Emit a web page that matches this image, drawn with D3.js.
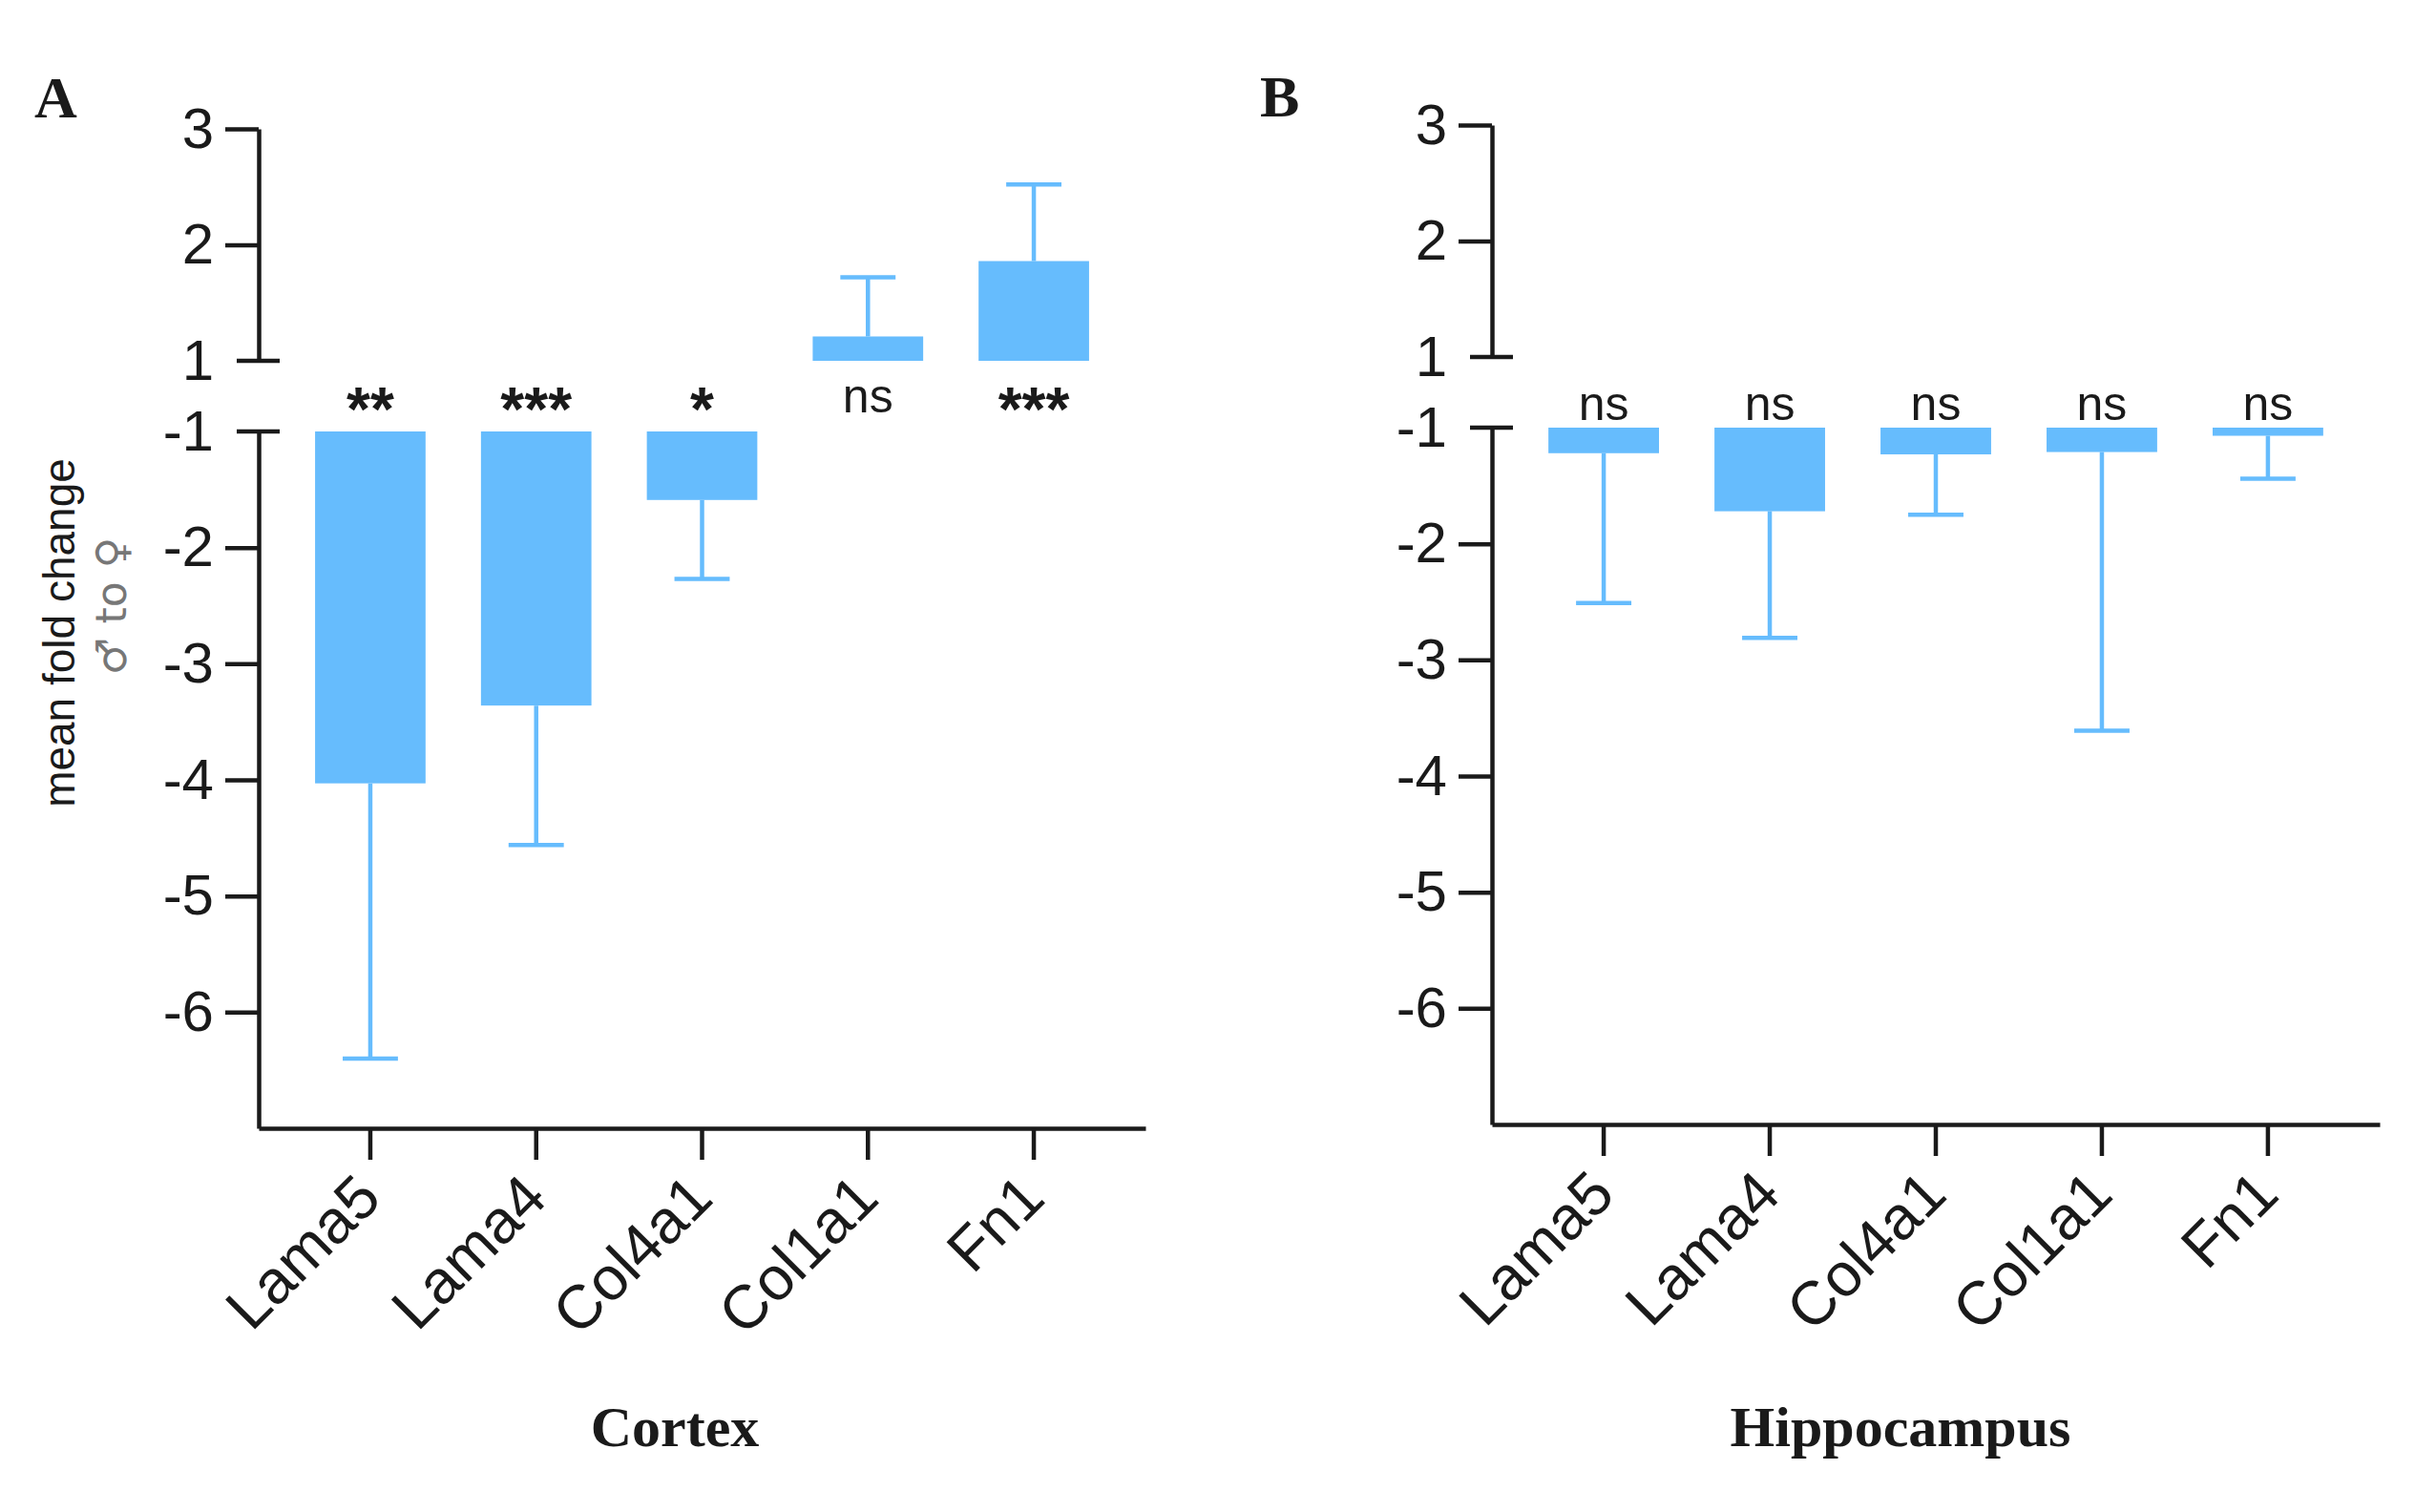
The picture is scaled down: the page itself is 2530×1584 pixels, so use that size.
<!DOCTYPE html>
<html>
<head>
<meta charset="utf-8">
<script src="https://cdn.jsdelivr.net/npm/d3@7"></script>
<style>
  body { margin: 0; background: #fff; }
  svg { display: block; }
  .tick text { font-family: "Liberation Sans", Arial, sans-serif; fill: #1a1a1a; }
</style>
</head>
<body>
<svg id="chart" width="2530" height="1584"></svg>
<script>
const categories = ['Lama5', 'Lama4', 'Col4a1', 'Col1a1', 'Fn1'];

const cortexMean = [-4.03, -3.36, -1.59, 1.21, 1.86];
const cortexErr  = [-6.40, -4.56, -2.27, 1.72, 2.52];
const cortexSig  = ['**', '***', '*', 'ns', '***'];

const hippoMean = [-1.22, -1.72, -1.23, -1.21, -1.07];
const hippoErr  = [-2.51, -2.81, -1.75, -3.61, -1.44];
const hippoSig  = ['ns', 'ns', 'ns', 'ns', 'ns'];

const upperTicks = [1, 2, 3];
const lowerTicks = [-1, -2, -3, -4, -5, -6];
const upperDomain = [1, 3];
const lowerDomain = [-7, -1];

const BAR = '#66bcfd';
const INK = '#1a1a1a';

const svg = d3.select('#chart');
svg.append('rect').attr('width', 2530).attr('height', 1584).attr('fill', '#fff');

const panels = [
  { letter: 'A', title: 'Cortex', mean: cortexMean, err: cortexErr, sig: cortexSig,
    x0: 271, x1: 1200, upTop: 135, upBot: 378, lowTop: 452, lowBot: 1182,
    letterX: 36, letterY: 123, titleX: 707, sigY: 417 },
  { letter: 'B', title: 'Hippocampus', mean: hippoMean, err: hippoErr, sig: hippoSig,
    x0: 1563, x1: 2493, upTop: 131, upBot: 374, lowTop: 448, lowBot: 1178,
    letterX: 1320, letterY: 122, titleX: 1991, sigY: 425 }
];

panels.forEach(p => drawPanel(p));

function drawPanel(p) {
  const g = svg.append('g');

  const x = d3.scaleBand().domain(categories).range([p.x0, p.x1])
    .paddingInner(0.334).paddingOuter(0.34);
  const yUp = d3.scaleLinear().domain(upperDomain).range([p.upBot, p.upTop]);
  const yLow = d3.scaleLinear().domain(lowerDomain).range([p.lowBot, p.lowTop]);

  const rows = categories.map((c, i) => ({ c, m: p.mean[i], e: p.err[i], s: p.sig[i] }));

  // bars
  const bw = x.bandwidth();
  rows.forEach(d => {
    const cx = x(d.c) + bw / 2;
    let yTop, yBot, yErr, yEnd;
    if (d.m > 0) {
      yTop = yUp(d.m); yBot = yUp(1); yErr = yUp(d.e); yEnd = yTop;
    } else {
      yTop = yLow(-1); yBot = yLow(d.m); yErr = yLow(d.e); yEnd = yBot;
    }
    g.append('rect')
      .attr('x', x(d.c)).attr('y', yTop)
      .attr('width', bw).attr('height', yBot - yTop)
      .attr('fill', BAR);
    g.append('line')
      .attr('x1', cx).attr('x2', cx).attr('y1', yEnd).attr('y2', yErr)
      .attr('stroke', BAR).attr('stroke-width', 4.5);
    g.append('line')
      .attr('x1', cx - bw / 4).attr('x2', cx + bw / 4).attr('y1', yErr).attr('y2', yErr)
      .attr('stroke', BAR).attr('stroke-width', 4.5);

    // significance label
    const star = d.s !== 'ns';
    g.append('text')
      .attr('x', cx)
      .attr('y', p.sigY + (star ? 34 : 15))
      .attr('text-anchor', 'middle')
      .attr('font-family', '"Liberation Sans", Arial, sans-serif')
      .attr('font-size', star ? 64 : 50)
      .attr('font-weight', star ? 'bold' : 'normal')
      .attr('fill', INK)
      .text(d.s);
  });

  // upper y axis segment
  const axUp = g.append('g').attr('transform', `translate(${p.x0},0)`)
    .call(d3.axisLeft(yUp).tickValues(upperTicks).tickSize(35).tickSizeOuter(0).tickPadding(12));
  // lower y axis segment
  const axLow = g.append('g').attr('transform', `translate(${p.x0},0)`)
    .call(d3.axisLeft(yLow).tickValues(lowerTicks).tickSize(35).tickSizeOuter(0).tickPadding(12));
  // x axis
  const axX = g.append('g').attr('transform', `translate(0,${p.lowBot})`)
    .call(d3.axisBottom(x).tickSize(33).tickSizeOuter(0).tickFormat(''));

  [axUp, axLow, axX].forEach(a => {
    a.selectAll('path, line').attr('stroke', INK).attr('stroke-width', 4.5);
    a.selectAll('text').attr('font-size', 60).attr('fill', INK);
  });
  axUp.selectAll('text').text(d => d);
  axLow.selectAll('text').text(d => '-' + Math.abs(d));
  // break caps (1 and -1 ticks run across the axis)
  [yUp(1), yLow(-1)].forEach(yy => {
    g.append('line').attr('x1', p.x0 - 23).attr('x2', p.x0 + 22)
      .attr('y1', yy).attr('y2', yy)
      .attr('stroke', INK).attr('stroke-width', 4.5);
  });
  axUp.selectAll('.tick').filter(d => d === 1).select('line').remove();
  axLow.selectAll('.tick').filter(d => d === -1).select('line').remove();

  // category labels
  axX.selectAll('.tick').append('text')
    .attr('transform', 'translate(14,76) rotate(-45)')
    .attr('text-anchor', 'end')
    .attr('font-family', '"Liberation Sans", Arial, sans-serif')
    .attr('font-size', 64)
    .attr('fill', INK)
    .text(d => d);

  // panel letter
  g.append('text')
    .attr('x', p.letterX).attr('y', p.letterY)
    .attr('font-family', '"Liberation Serif", "Times New Roman", serif')
    .attr('font-weight', 'bold').attr('font-size', 62).attr('fill', INK)
    .text(p.letter);

  // region title
  g.append('text')
    .attr('x', p.titleX).attr('y', 1515)
    .attr('text-anchor', 'middle')
    .attr('font-family', '"Liberation Serif", "Times New Roman", serif')
    .attr('font-weight', 'bold').attr('font-size', 60).attr('fill', INK)
    .text(p.title);
}

// y axis title (panel A)
svg.append('text')
  .attr('transform', 'translate(78,663) rotate(-90)')
  .attr('text-anchor', 'middle')
  .attr('font-family', '"Liberation Sans", Arial, sans-serif')
  .attr('font-size', 46)
  .attr('fill', INK)
  .text('mean fold change');
svg.append('text')
  .attr('transform', 'translate(132,635) rotate(-90)')
  .attr('text-anchor', 'middle')
  .attr('font-family', '"DejaVu Sans", sans-serif')
  .attr('font-size', 44)
  .attr('fill', '#777')
  .text('♂ to ♀');
</script>
</body>
</html>
